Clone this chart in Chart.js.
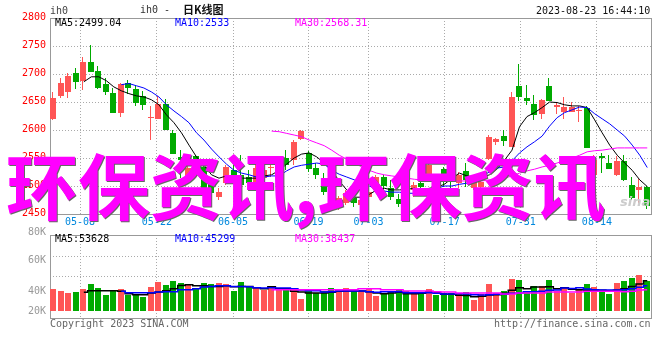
<!DOCTYPE html>
<html>
<head>
<meta charset="utf-8">
<style>
html, body { margin: 0; padding: 0; background: #fff; overflow: hidden; }
#wrap { position: relative; width: 660px; height: 360px; overflow: hidden; }
canvas { position: absolute; left: 0; }
.t { position: absolute; white-space: pre; font: 10px/12px "DejaVu Sans Mono", monospace; }
#stamp { position: absolute; left: 6px; top: 135px; white-space: pre; color: #ff00ff;
    font: 700 72px/96px "Noto Sans CJK SC", sans-serif; text-shadow: 1px 1px 0 #666; }
</style>
</head>
<body>
<div id="wrap">
    <canvas id="kline" width="660" height="230" style="top:0"></canvas>
    <canvas id="volume" width="660" height="110" style="top:225px"></canvas>
    <div class="t" style="left:50px;top:5px;color:#444">ih0</div>
    <div class="t" style="left:140px;top:4px;color:#333">ih0 -</div>
    <div class="t" style="left:183px;top:2px;color:#111;font:700 11px/14px 'Noto Sans CJK SC'">日K线图</div>
    <div class="t" style="left:536px;top:5px;color:#111">2023-08-23 16:44:10</div>
    <div class="t" style="left:55px;top:17px;color:#000">MA5:2499.04</div>
    <div class="t" style="left:175px;top:17px;color:#0000ff">MA10:2533</div>
    <div class="t" style="left:295px;top:17px;color:#ff00ff">MA30:2568.31</div>
    <div class="t" style="left:55px;top:233px;color:#000">MA5:53628</div>
    <div class="t" style="left:175px;top:233px;color:#0000ff">MA10:45299</div>
    <div class="t" style="left:295px;top:233px;color:#ff00ff">MA30:38437</div>
    <div class="t" style="left:50px;top:318px;color:#666">Copyright 2023 SINA.COM</div>
    <div class="t" style="left:494px;top:318px;color:#666">http://finance.sina.com.cn</div>
    <div class="t" style="left:620px;top:194px;color:#cccccc;font:italic 700 13px/16px 'DejaVu Sans'">sina</div>
    <div id="stamp">环保资讯,环保资讯</div>
</div>
<script src="https://cdn.jsdelivr.net/npm/chart.js@4"></script>
<script>
var dateLabels = ['05-08', '05-22', '06-05', '06-19', '07-03', '07-17', '07-31', '08-14'];
var dateTicks = [3.5, 13.73, 23.87, 33.9, 41.9, 52.03, 62.17, 72.3];

var opens = [
    2620, 2661, 2668, 2701, 2688, 2722, 2706, 2683, 2666, 2631,
    2684, 2674, 2661, 2622, 2620, 2647, 2595, 2552, 2518, 2554,
    2534, 2511, 2480, 2505, 2528, 2520, 2516, 2505, 2514, 2532,
    2520, 2550, 2546, 2584, 2559, 2532, 2514, 2478, 2471, 2469,
    2478, 2466, 2480, 2496, 2516, 2496, 2477, 2493, 2493, 2505,
    2520, 2511, 2530, 2523, 2505, 2527, 2496, 2498, 2548, 2579,
    2589, 2570, 2679, 2658, 2647, 2629, 2679, 2641, 2632, 2632,
    2634, 2640, 2520, 2554, 2541, 2520, 2545, 2502, 2493, 2498
];
var closes = [
    2658, 2684, 2697, 2686, 2722, 2704, 2675, 2668, 2631, 2683,
    2675, 2649, 2645, 2624, 2647, 2600, 2557, 2546, 2532, 2528,
    2496, 2487, 2489, 2534, 2518, 2502, 2505, 2532, 2528, 2534,
    2537, 2537, 2579, 2598, 2530, 2520, 2489, 2466, 2478, 2487,
    2469, 2475, 2489, 2516, 2500, 2480, 2468, 2475, 2502, 2498,
    2537, 2498, 2520, 2511, 2520, 2511, 2511, 2507, 2588, 2584,
    2580, 2659, 2659, 2652, 2627, 2654, 2652, 2645, 2641, 2641,
    2636, 2568, 2546, 2550, 2530, 2545, 2511, 2478, 2498, 2464
];
var highs = [
    2668, 2693, 2701, 2710, 2731, 2752, 2715, 2693, 2675, 2684,
    2690, 2679, 2670, 2643, 2661, 2656, 2600, 2564, 2536, 2555,
    2546, 2514, 2496, 2537, 2546, 2555, 2528, 2537, 2532, 2543,
    2546, 2564, 2582, 2600, 2563, 2541, 2523, 2478, 2482, 2493,
    2484, 2484, 2496, 2520, 2520, 2511, 2485, 2500, 2507, 2511,
    2543, 2518, 2534, 2528, 2525, 2541, 2514, 2514, 2591, 2586,
    2600, 2668, 2717, 2681, 2663, 2656, 2693, 2649, 2659, 2650,
    2643, 2643, 2555, 2559, 2555, 2554, 2555, 2516, 2512, 2500
];
var lows = [
    2617, 2658, 2658, 2674, 2672, 2704, 2674, 2663, 2631, 2624,
    2665, 2643, 2636, 2582, 2620, 2600, 2557, 2514, 2511, 2525,
    2462, 2484, 2475, 2502, 2505, 2493, 2496, 2503, 2511, 2516,
    2514, 2528, 2537, 2582, 2525, 2512, 2484, 2457, 2457, 2466,
    2462, 2452, 2466, 2493, 2493, 2475, 2462, 2466, 2480, 2489,
    2514, 2489, 2498, 2496, 2496, 2498, 2493, 2494, 2546, 2573,
    2572, 2570, 2652, 2645, 2618, 2620, 2652, 2629, 2620, 2632,
    2615, 2568, 2511, 2523, 2530, 2518, 2509, 2475, 2469, 2459
];
var ma5 = [
    null, null, null, null, 2686, 2695, 2695, 2688, 2677, 2670,
    2665, 2661, 2659, 2654, 2645, 2627, 2613, 2595, 2573, 2552,
    2537, 2520, 2514, 2518, 2518, 2514, 2514, 2514, 2518, 2520,
    2528, 2539, 2550, 2557, 2559, 2552, 2541, 2528, 2509, 2493,
    2480, 2480, 2485, 2493, 2496, 2493, 2493, 2494, 2496, 2493,
    2496, 2498, 2503, 2514, 2523, 2518, 2516, 2516, 2520, 2530,
    2546, 2564, 2606, 2624, 2631, 2640, 2650, 2649, 2645, 2643,
    2643, 2640, 2618, 2595, 2573, 2555, 2541, 2528, 2511, 2499
];
var ma10 = [
    null, null, null, null, null, null, null, null, null, 2681,
    2683, 2679, 2675, 2668, 2659, 2645, 2634, 2624, 2613, 2595,
    2582, 2566, 2552, 2539, 2528, 2523, 2520, 2516, 2516, 2518,
    2518, 2527, 2534, 2537, 2539, 2541, 2539, 2528, 2521, 2516,
    2511, 2505, 2500, 2494, 2491, 2489, 2489, 2487, 2487, 2484,
    2489, 2496, 2500, 2500, 2503, 2505, 2511, 2518, 2525, 2532,
    2534, 2545, 2559, 2570, 2579, 2589, 2607, 2622, 2631, 2636,
    2641, 2640, 2629, 2620, 2611, 2600, 2589, 2573, 2555, 2533
];
var ma30 = [
    null, null, null, null, null, null, null, null, null, null,
    null, null, null, null, null, null, null, null, null, null,
    null, null, null, null, null, null, null, null, null, 2598,
    2597, 2594, 2591, 2588, 2582, 2577, 2572, 2564, 2555, 2548,
    2541, 2534, 2528, 2523, 2520, 2518, 2516, 2514, 2512, 2511,
    2511, 2509, 2509, 2509, 2509, 2509, 2509, 2509, 2511, 2512,
    2514, 2518, 2523, 2527, 2530, 2534, 2537, 2541, 2546, 2550,
    2555, 2561, 2563, 2564, 2566, 2568, 2568, 2568, 2568, 2568
];

// volumes in thousands
var volumes = [
    35.9, 32.6, 29.4, 31.0, 35.9, 44.1, 37.5, 26.1, 34.3, 35.9,
    26.1, 27.7, 22.8, 39.2, 47.3, 42.4, 49.0, 45.7, 42.4, 35.9,
    45.7, 44.1, 45.7, 44.1, 32.6, 47.3, 39.2, 39.2, 34.3, 39.2,
    35.9, 37.5, 34.3, 19.6, 32.6, 29.4, 32.6, 37.5, 32.6, 37.5,
    32.6, 32.6, 35.9, 24.5, 29.4, 31.0, 34.3, 32.6, 29.4, 29.4,
    35.9, 26.1, 29.4, 29.4, 27.7, 31.0, 18.0, 27.7, 44.1, 29.4,
    32.6, 52.2, 50.6, 32.6, 40.8, 40.8, 50.6, 32.6, 37.5, 29.4,
    35.9, 44.1, 39.2, 32.6, 27.7, 45.7, 49.0, 53.9, 60.4, 49.0
];
var volMa5 = [
    null, null, null, null, 31, 33.7, 33.7, 33.7, 33.7, 32.6,
    28.8, 27.2, 27.2, 29.9, 31.6, 33.7, 37, 42.4, 43.5, 41.9,
    41.9, 40.8, 40.8, 41.9, 40.3, 40.8, 40.8, 38.6, 37, 40.3,
    37, 37, 32.6, 31.6, 29.9, 29.9, 29.9, 31, 32.6, 33.2,
    33.2, 33.2, 32.1, 29.9, 28.8, 29.9, 31, 28.8, 28.8, 29.4,
    31.6, 30.5, 27.7, 27.7, 26.1, 25.6, 23.9, 24.5, 26.7, 27.2,
    29.4, 34.3, 38.6, 37, 39.7, 39.7, 40.3, 37, 38.6, 35.9,
    35.4, 34.3, 34.3, 34.3, 33.7, 34.3, 37, 40.8, 44.6, 50
];
var volMa10 = [
    null, null, null, null, null, null, null, null, null, 32.6,
    30.5, 30.5, 30.5, 30.5, 31.6, 32.1, 32.1, 35.4, 35.4, 37,
    39.7, 40.8, 41.9, 41.9, 40.8, 40.8, 40.3, 38.6, 38.1, 38.6,
    38.1, 38.1, 37, 34.8, 33.7, 33.7, 31.6, 32.1, 33.2, 33.2,
    33.2, 33.2, 32.1, 31, 32.1, 32.1, 32.1, 30.5, 30.5, 30.5,
    30.5, 29.4, 28.3, 28.3, 28.8, 28.3, 27.2, 26.7, 27.2, 27.7,
    27.7, 29.4, 29.9, 32.1, 32.1, 32.6, 34.3, 34.8, 38.1, 37.5,
    38.6, 36.4, 35.4, 34.8, 34.8, 34.8, 35.4, 37, 39.2, 41.9
];
var volMa30 = [
    null, null, null, null, null, null, null, null, null, null,
    null, null, null, null, null, null, null, null, null, null,
    null, null, null, null, null, null, null, null, null, 35.4,
    35.4, 35.4, 35.4, 35.4, 35.4, 35.4, 35.4, 35.4, 35.4, 35.4,
    35.4, 37, 37, 37, 35.4, 35.4, 35.4, 33.2, 33.2, 33.2,
    33.2, 32.1, 31.6, 31.6, 29.9, 29.9, 29.9, 29.9, 29.9, 29.9,
    28.3, 28.3, 29.9, 29.9, 29.9, 29.9, 31.6, 31.6, 31.6, 31.6,
    31.6, 32.6, 32.6, 32.6, 32.6, 32.6, 32.1, 32.6, 34.8, 35.4
];
var volTicks = [-4.9, 27.7, 57.6, 78.3, 90.2, 125.7];
var volTickLabels = ['20K', '40K', '', '60K', '', '80K'];

var RED = '#ff5555';
var GREEN = '#00aa00';
var MONO = 'DejaVu Sans Mono';

// crisp bars, the reference has no antialiasing on them
var snapBars = {
    id: 'snapBars',
    beforeDatasetDraw: function (chart, args) {
        if (args.meta.type !== 'bar') {
            return;
        }
        var w = chart.data.datasets[args.index].maxBarThickness;
        args.meta.data.forEach(function (el) {
            var left = Math.floor(el.x - 3) + (w < 6 ? 2 : 0);
            el.width = w;
            el.x = left + w / 2;
            el.y = Math.round(el.y);
            el.base = Math.round(el.base);
            if (el.y === el.base) {
                el.base = el.y + 1;
            }
        });
    }
};

var frame = {
    id: 'frame',
    beforeDatasetsDraw: function (chart) {
        var a = chart.chartArea;
        var c = chart.ctx;
        c.save();
        c.strokeStyle = '#999999';
        c.lineWidth = 1;
        c.strokeRect(a.left + 0.5, a.top + 0.5, a.right - a.left, a.bottom - a.top);
        c.restore();
    }
};

function points(values) {
    return values.map(function (v, i) {
        return { x: i, y: v };
    });
}

function ranges(a, b) {
    return a.map(function (v, i) {
        return { x: i, y: [v, b[i]] };
    });
}

function lineSet(values, color, order, stepped) {
    return {
        type: 'line',
        data: points(values),
        borderColor: color,
        borderWidth: stepped ? 1.5 : 1,
        pointRadius: 0,
        tension: 0,
        stepped: stepped ? 'middle' : false,
        order: order
    };
}

function xAxis(showLabels, height) {
    return {
        type: 'linear',
        min: -0.5,
        max: 79.5,
        offset: false,
        afterBuildTicks: function (axis) {
            axis.ticks = dateTicks.map(function (v) {
                return { value: v };
            });
        },
        afterFit: function (axis) {
            axis.height = height;
        },
        ticks: {
            display: showLabels,
            autoSkip: false,
            maxRotation: 0,
            padding: 2,
            color: '#0088dd',
            font: { family: MONO, size: 10 },
            callback: function (value, index) {
                return dateLabels[index];
            }
        },
        border: { display: false, dash: [1, 2] },
        grid: { color: '#aaaaaa', offset: false, drawTicks: false }
    };
}

var upOrDown = opens.map(function (o, i) {
    return closes[i] >= o ? RED : GREEN;
});

new Chart(document.getElementById('kline'), {
    type: 'bar',
    data: {
        datasets: [
            {
                data: ranges(opens, closes),
                backgroundColor: upOrDown,
                grouped: false,
                maxBarThickness: 6,
                order: 4
            },
            {
                data: ranges(lows, highs),
                backgroundColor: upOrDown,
                grouped: false,
                maxBarThickness: 1,
                order: 5
            },
            lineSet(ma5, '#000000', 3),
            lineSet(ma10, '#0000ff', 2),
            lineSet(ma30, '#ff00ff', 1)
        ]
    },
    options: {
        responsive: false,
        animation: false,
        layout: { padding: { top: 18, right: 9, left: 0, bottom: 0 } },
        plugins: { legend: { display: false }, tooltip: { enabled: false } },
        scales: {
            x: xAxis(true, 16),
            y: {
                min: 2450,
                max: 2800,
                afterFit: function (axis) {
                    axis.width = 50;
                },
                ticks: {
                    stepSize: 50,
                    color: '#ff0000',
                    padding: 4,
                    labelOffset: -1,
                    font: { family: MONO, size: 10 },
                    callback: function (value) {
                        return String(value);
                    }
                },
                border: { display: false, dash: [1, 2] },
                grid: { color: '#aaaaaa', drawTicks: false }
            }
        }
    },
    plugins: [frame, snapBars]
});

new Chart(document.getElementById('volume'), {
    type: 'bar',
    data: {
        datasets: [
            {
                data: points(volumes),
                backgroundColor: upOrDown,
                grouped: false,
                maxBarThickness: 6,
                order: 4
            },
            lineSet(volMa5, '#000000', 3, true),
            lineSet(volMa10, '#0000ff', 2, true),
            lineSet(volMa30, '#ff00ff', 1, true)
        ]
    },
    options: {
        responsive: false,
        animation: false,
        layout: { padding: { top: 9, right: 9, left: 0, bottom: 0 } },
        plugins: { legend: { display: false }, tooltip: { enabled: false } },
        scales: {
            x: xAxis(false, 17),
            y: {
                min: -11.4,
                max: 125.7,
                afterBuildTicks: function (axis) {
                    axis.ticks = volTicks.map(function (v) {
                        return { value: v };
                    });
                },
                afterFit: function (axis) {
                    axis.width = 50;
                },
                ticks: {
                    color: '#999999',
                    padding: 4,
                    labelOffset: -3,
                    font: { family: MONO, size: 10 },
                    callback: function (value, index) {
                        return volTickLabels[index];
                    }
                },
                border: { display: false, dash: [1, 2] },
                grid: {
                    drawTicks: false,
                    color: function (ctx) {
                        return volTickLabels[ctx.index] === '' ? '#aaaaaa' : 'rgba(0,0,0,0)';
                    }
                }
            }
        }
    },
    plugins: [frame, snapBars]
});
</script>
</body>
</html>
